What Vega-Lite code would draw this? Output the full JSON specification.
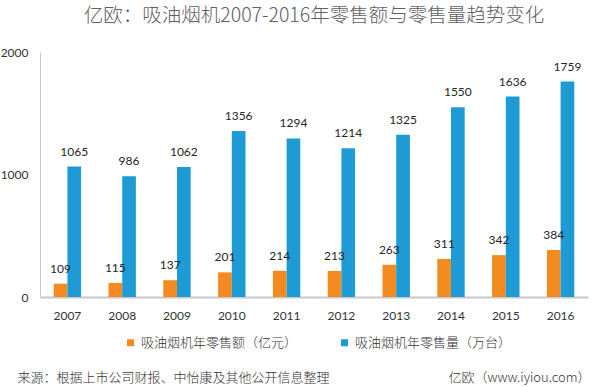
{
  "$schema": "https://vega.github.io/schema/vega-lite/v6.json",
  "width": 548,
  "height": 245,
  "autosize": {"type": "none"},
  "padding": {"left": 40, "top": 52, "right": 12, "bottom": 90},
  "background": "white",
  "config": {
    "view": {"stroke": null},
    "font": "Noto Sans CJK SC"
  },
  "title": {
    "text": "亿欧：吸油烟机2007-2016年零售额与零售量趋势变化",
    "font": "Noto Sans CJK SC",
    "fontSize": 19.5,
    "fontWeight": 300,
    "color": "#606060",
    "anchor": "middle",
    "frame": "group",
    "baseline": "middle",
    "offset": 11
  },
  "data": {
    "values": [
      {"year": "2007", "series": "吸油烟机年零售额（亿元）", "value": 109},
      {"year": "2007", "series": "吸油烟机年零售量（万台）", "value": 1065},
      {"year": "2008", "series": "吸油烟机年零售额（亿元）", "value": 115},
      {"year": "2008", "series": "吸油烟机年零售量（万台）", "value": 986},
      {"year": "2009", "series": "吸油烟机年零售额（亿元）", "value": 137},
      {"year": "2009", "series": "吸油烟机年零售量（万台）", "value": 1062},
      {"year": "2010", "series": "吸油烟机年零售额（亿元）", "value": 201},
      {"year": "2010", "series": "吸油烟机年零售量（万台）", "value": 1356},
      {"year": "2011", "series": "吸油烟机年零售额（亿元）", "value": 214},
      {"year": "2011", "series": "吸油烟机年零售量（万台）", "value": 1294},
      {"year": "2012", "series": "吸油烟机年零售额（亿元）", "value": 213},
      {"year": "2012", "series": "吸油烟机年零售量（万台）", "value": 1214},
      {"year": "2013", "series": "吸油烟机年零售额（亿元）", "value": 263},
      {"year": "2013", "series": "吸油烟机年零售量（万台）", "value": 1325},
      {"year": "2014", "series": "吸油烟机年零售额（亿元）", "value": 311},
      {"year": "2014", "series": "吸油烟机年零售量（万台）", "value": 1550},
      {"year": "2015", "series": "吸油烟机年零售额（亿元）", "value": 342},
      {"year": "2015", "series": "吸油烟机年零售量（万台）", "value": 1636},
      {"year": "2016", "series": "吸油烟机年零售额（亿元）", "value": 384},
      {"year": "2016", "series": "吸油烟机年零售量（万台）", "value": 1759}
    ]
  },
  "encoding": {
    "x": {
      "field": "year",
      "type": "nominal",
      "scale": {"paddingInner": 0.5, "paddingOuter": 0.25},
      "axis": {
        "title": "来源：根据上市公司财报、中怡康及其他公开信息整理",
        "titleFont": "Noto Sans CJK SC",
        "titleFontSize": 13,
        "titleFontWeight": 300,
        "titleColor": "#333333",
        "titleAnchor": "start",
        "titleAlign": "left",
        "titleBaseline": "middle",
        "titleX": -23,
        "titleY": 80,
        "labelAngle": 0,
        "labelFont": "Lato",
        "labelFontSize": 12,
        "labelColor": "#333333",
        "labelPadding": 13,
        "ticks": false,
        "domainColor": "#c8c8c8",
        "domainWidth": 2
      }
    },
    "xOffset": {
      "field": "series",
      "type": "nominal",
      "sort": ["吸油烟机年零售额（亿元）", "吸油烟机年零售量（万台）"],
      "scale": {"paddingInner": 0, "paddingOuter": 0}
    },
    "y": {
      "field": "value",
      "type": "quantitative",
      "scale": {"domain": [0, 2000], "nice": false},
      "axis": {
        "values": [0, 1000, 2000],
        "format": "d",
        "grid": false,
        "ticks": false,
        "labelFont": "Lato",
        "labelFontSize": 12,
        "labelColor": "#333333",
        "labelPadding": 12,
        "domainColor": "#c8c8c8",
        "domainWidth": 1,
        "title": "亿欧（www.iyiou.com）",
        "titleFont": "Noto Sans CJK SC",
        "titleFontSize": 13,
        "titleFontWeight": 300,
        "titleColor": "#333333",
        "titleAngle": 0,
        "titleAlign": "right",
        "titleBaseline": "middle",
        "titleX": 550,
        "titleY": 325
      }
    }
  },
  "layer": [
    {
      "mark": {"type": "bar"},
      "encoding": {
        "color": {
          "field": "series",
          "type": "nominal",
          "scale": {
            "domain": ["吸油烟机年零售额（亿元）", "吸油烟机年零售量（万台）"],
            "range": ["#F38B20", "#1E9BD5"]
          },
          "legend": {
            "title": null,
            "orient": "none",
            "direction": "horizontal",
            "legendX": 84,
            "legendY": 284,
            "symbolType": "square",
            "symbolSize": 49,
            "symbolStrokeWidth": 0,
            "labelFont": "Noto Sans CJK SC",
            "labelFontSize": 13,
            "labelFontWeight": 300,
            "labelColor": "#333333",
            "labelOffset": 4,
            "columnPadding": 40
          }
        }
      }
    },
    {
      "mark": {"type": "text", "baseline": "alphabetic", "dy": -11, "font": "Lato", "fontSize": 12, "color": "#262626"},
      "encoding": {
        "text": {"field": "value", "type": "quantitative", "format": "d"}
      }
    }
  ]
}
